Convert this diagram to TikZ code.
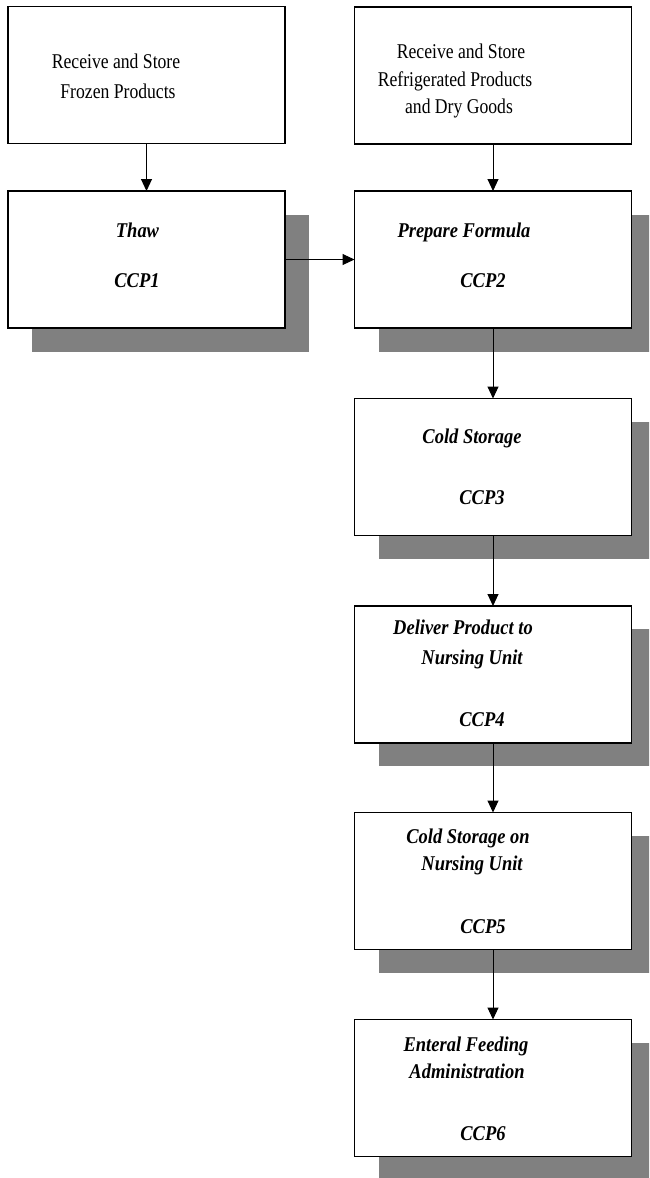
\documentclass[tikz,border=0pt]{standalone}
\usepackage{fontspec}
\setmainfont{Liberation Serif}[FakeStretch=0.84]
\newfontfamily\bifont{Liberation Serif}[FakeStretch=0.88]
\usetikzlibrary{arrows.meta}
\definecolor{shd}{RGB}{128,128,128}
\begin{document}
\begin{tikzpicture}[x=1pt,y=-1pt,
  stepbox/.style={draw=black, line width=1.1pt, fill=white, rectangle,
    minimum width=277pt, minimum height=137pt, inner sep=0pt, outer sep=0pt},
  shadowbox/.style={fill=shd, draw=none, rectangle,
    minimum width=277pt, minimum height=137pt, inner sep=0pt, outer sep=0pt},
  lbl/.style={anchor=base, inner sep=0pt, font=\fontsize{21}{25}\selectfont},
  itl/.style={anchor=base, inner sep=0pt, font=\bifont\fontsize{21}{25}\selectfont\bfseries\itshape},
  arr/.style={line width=1pt, -{Triangle[length=12pt,width=11pt]}}]
\useasboundingbox (0,0) rectangle (649,1178);
\clip (0,0) rectangle (649,1178);
% shadows
\node[shadowbox] (s2) at (170.5,283) {};
\node[shadowbox] (s4) at (517,283) {};
\node[shadowbox] (s5) at (517,490) {};
\node[shadowbox] (s6) at (517,697.5) {};
\node[shadowbox] (s7) at (517,904) {};
\node[shadowbox] (s8) at (517,1111) {};
% boxes
\node[stepbox] (b1) at (146.5,75) {};
\node[stepbox] (b2) at (146.5,259.5) {};
\node[stepbox] (b3) at (493,75.5) {};
\node[stepbox] (b4) at (493,259.5) {};
\node[stepbox] (b5) at (493,467) {};
\node[stepbox] (b6) at (493,674.5) {};
\node[stepbox] (b7) at (493,881) {};
\node[stepbox] (b8) at (493,1088) {};
% texts
\node[lbl] (t1a) at (116,68) {Receive and Store};
\node[lbl] (t1b) at (118,98) {Frozen Products};
\node[lbl] (t3a) at (461,58) {Receive and Store};
\node[lbl] (t3b) at (455,86) {Refrigerated Products};
\node[lbl] (t3c) at (459,113) {and Dry Goods};
\node[itl] (t2a) at (137.5,237) {Thaw};
\node[itl] (t2b) at (137,287) {CCP1};
\node[itl] (t4a) at (464,237) {Prepare Formula};
\node[itl] (t4b) at (483,287) {CCP2};
\node[itl] (t5a) at (472,443) {Cold Storage};
\node[itl] (t5b) at (482,504) {CCP3};
\node[itl] (t6a) at (463,634) {Deliver Product to};
\node[itl] (t6b) at (472,664) {Nursing Unit};
\node[itl] (t6c) at (482,726) {CCP4};
\node[itl] (t7a) at (468,843) {Cold Storage on};
\node[itl] (t7b) at (472,870) {Nursing Unit};
\node[itl] (t7c) at (483,933) {CCP5};
\node[itl] (t8a) at (466,1051) {Enteral Feeding};
\node[itl] (t8b) at (467,1078) {Administration};
\node[itl] (t8c) at (483,1140) {CCP6};
% connectors
\draw[arr] (b1) -- (b2);
\draw[arr] (b3) -- (b4);
\draw[arr] (b2) -- (b4);
\draw[arr] (b4) -- (b5);
\draw[arr] (b5) -- (b6);
\draw[arr] (b6) -- (b7);
\draw[arr] (b7) -- (b8);
\end{tikzpicture}
\end{document}
